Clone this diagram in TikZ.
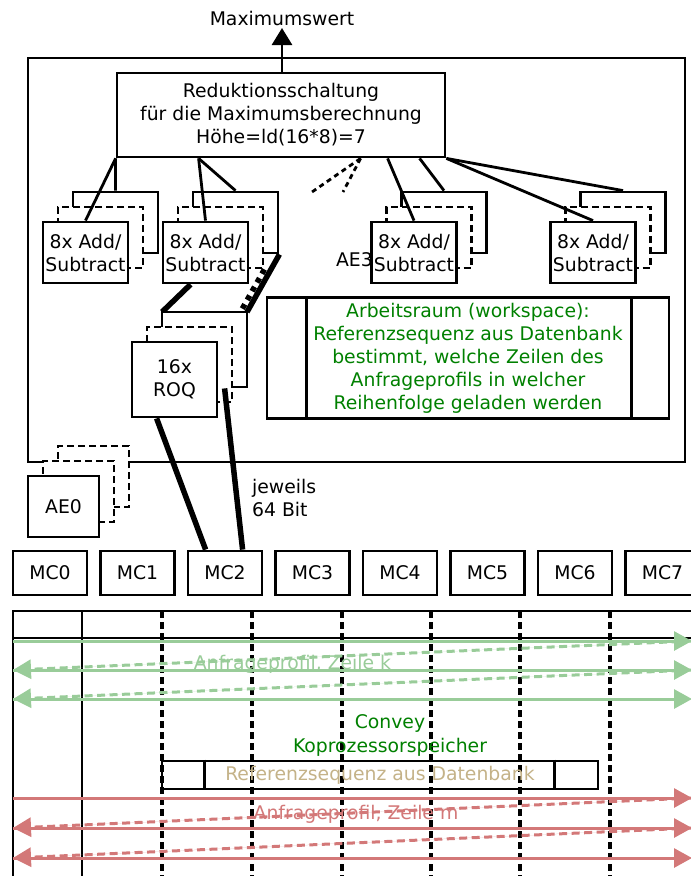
\documentclass[tikz,border=0pt]{standalone}
\usepackage{fontspec}
\setmainfont{DejaVu Sans}
\usetikzlibrary{arrows.meta,calc}

\definecolor{wsgreen}{RGB}{0,128,0}
\definecolor{rowgreen}{RGB}{153,204,153}
\definecolor{rowred}{RGB}{211,120,120}
\definecolor{reftan}{RGB}{196,178,136}

\tikzset{
  box/.style={draw, line width=2.8pt, fill=white, inner sep=0pt, align=center},
  ghostbox/.style={box, dash pattern=on 7pt off 4pt},
  conn/.style={line width=2.8pt},
  conndot/.style={line width=2.8pt, dash pattern=on 5pt off 4pt},
  bus/.style={line width=5.5pt},
  busdot/.style={line width=5.5pt, dash pattern=on 5pt off 5pt},
  lane/.style={line width=3.2pt, dash pattern=on 7pt off 4pt},
  rowtip/.style={-{Triangle[length=18pt,width=19pt]}},
  gsolid/.style={rowtip, line width=3pt, draw=rowgreen, fill=rowgreen},
  gdash/.style={gsolid, dash pattern=on 8pt off 4.5pt},
  rsolid/.style={rowtip, line width=3pt, draw=rowred, fill=rowred},
  rdash/.style={rsolid, dash pattern=on 8pt off 4.5pt},
}

% three stacked units: back, middle (dashed), front with label
\newcommand\unitstack[7]{%
  \node[#7, minimum width=#4, minimum height=#5] (#1back) at ({#2+30},{#3-30}) {};
  \node[ghostbox, minimum width=#4, minimum height=#5] (#1mid) at ({#2+15},{#3-15}) {};
  \node[box, minimum width=#4, minimum height=#5] (#1) at (#2,#3) {#6};
}

\begin{document}
\begin{tikzpicture}[x=1pt,y=-1pt,font=\fontsize{18.8}{23}\selectfont]
\useasboundingbox (0,0) rectangle (691,876);
\clip (0,0) rectangle (691,876);

% FPGA region
\node[draw, line width=2.8pt, minimum width=657pt, minimum height=404pt, inner sep=0pt] (main) at (356.5,260) {};

% reduction tree and result
\node[box, minimum width=328pt, minimum height=84pt] (red) at (281,115)
  {Reduktionsschaltung\\für die Maximumsberechnung\\Höhe=ld(16*8)=7};
\node[inner sep=0pt] (maxval) at (282,18) {Maximumswert};
\coordinate (maxtop) at (282,73);
\coordinate (maxtip) at (282,28);
\draw[conn, -{Triangle[length=17pt,width=20pt]}] (maxtop) -- (maxtip);

% processing elements
\node[anchor=east, inner sep=0pt] (ae3label) at (373,260) {AE3};
\unitstack{ae1}{85.5}{252.5}{85pt}{61pt}{8x Add/\\Subtract}{box}
\unitstack{ae2}{205.5}{252.5}{85pt}{61pt}{8x Add/\\Subtract}{box}
\unitstack{ae3}{414}{252.5}{85pt}{61pt}{8x Add/\\Subtract}{box}
\unitstack{ae4}{593}{252.5}{85pt}{61pt}{8x Add/\\Subtract}{box}

% links into the reduction tree
\draw[conn] (red.south west) -- (ae1.north);
\draw[conn] (red.south west) -- (ae1back.north);
\draw[conn] ($(red.south west)+(83,0)$) -- (ae2.north);
\draw[conn] ($(red.south west)+(83,0)$) -- (ae2back.north);
\coordinate (gapA) at (312,192);
\coordinate (gapB) at (343,192);
\draw[conndot] ($(red.south west)+(245,0)$) -- (gapA);
\draw[conndot] ($(red.south west)+(245,0)$) -- (gapB);
\draw[conn] ($(red.south west)+(272,0)$) -- (ae3.north);
\draw[conn] ($(red.south west)+(304,0)$) -- (ae3back.north);
\draw[conn] (red.south east) -- (ae4.north);
\draw[conn] (red.south east) -- (ae4back.north);

% workspace
\node[draw, line width=2.8pt, minimum width=402pt, minimum height=121pt, inner sep=0pt,
      align=center, text=wsgreen] (ws) at (468,358)
  {Arbeitsraum (workspace):\\Referenzsequenz aus Datenbank\\bestimmt, welche Zeilen des\\Anfrageprofils in welcher\\Reihenfolge geladen werden};
\draw[conn] ($(ws.north west)+(41,0)$) -- ($(ws.south west)+(41,0)$);
\draw[conn] ($(ws.north east)+(-39,0)$) -- ($(ws.south east)+(-39,0)$);

% query units
\draw[bus] ($(ae2.south west)+(29,0)$) -- (162,312) coordinate (roqtl);
\draw[bus] (ae2back.south east) -- (247,312) coordinate (roqtr);
\draw[busdot] (ae2mid.south east) -- (232,327);
\unitstack{roq}{174.5}{379.5}{85pt}{75pt}{16x\\ROQ}{box}

% AE0 stack outside the region
\unitstack{ae0}{63.5}{506.5}{71pt}{61pt}{AE0}{ghostbox}

% memory controllers
\foreach \i in {0,...,7}
  \node[box, minimum width=74pt, minimum height=44pt] (mc\i) at ({50+87.5*\i},573) {MC\i};

\draw[bus] ($(roq.south west)+(26,0)$) -- ($(mc2.north west)+(19,0)$);
\draw[bus] ($(roqback.south west)+(64,0)$) -- ($(mc2.north west)+(56,0)$);
\node[anchor=west, align=left, inner sep=0pt] (width) at (252,497.5) {jeweils\\64 Bit};

% coprocessor memory
\draw[conn] (13,880) -- (13,611) -- (700,611);
\draw[conn] (13,638) -- (700,638);
\draw[conn] (82,611) -- (82,880);
\foreach \x in {162,252,342,431,520,610}
  \draw[lane] (\x,611) -- (\x,880);

\node[text=wsgreen, align=center, inner sep=0pt, font=\fontsize{18.8}{24}\selectfont] (conv) at (390,735)
  {Convey\\Koprozessorspeicher};
\node[draw, line width=2.8pt, minimum width=436pt, minimum height=28pt, inner sep=0pt,
      text=reftan] (ref) at (380,775) {Referenzsequenz aus Datenbank};
\draw[conn] ($(ref.north west)+(44,0)$) -- ($(ref.south west)+(44,0)$);
\draw[conn] ($(ref.north east)+(-45,0)$) -- ($(ref.south east)+(-45,0)$);

% query profile row k
\coordinate (gL1) at (13,641); \coordinate (gR1) at (692,641);
\coordinate (gL2) at (13,670); \coordinate (gR2) at (692,670);
\coordinate (gL3) at (13,699); \coordinate (gR3) at (692,699);
\draw[gsolid] (gL1) -- (gR1);
\draw[gdash] (gR1) -- (gL2);
\draw[gsolid] (gL2) -- (gR2);
\draw[gdash] (gR2) -- (gL3);
\draw[gsolid] (gL3) -- (gR3);
\node[text=rowgreen, inner sep=0pt] (rowk) at (292.5,664) {Anfrageprofil, Zeile k};

% query profile row m
\coordinate (rL1) at (13,798); \coordinate (rR1) at (692,798);
\coordinate (rL2) at (13,828); \coordinate (rR2) at (692,828);
\coordinate (rL3) at (13,858); \coordinate (rR3) at (692,858);
\draw[rsolid] (rL1) -- (rR1);
\draw[rdash] (rR1) -- (rL2);
\draw[rsolid] (rL2) -- (rR2);
\draw[rdash] (rR2) -- (rL3);
\draw[rsolid] (rL3) -- (rR3);
\node[text=rowred, inner sep=0pt] (rowm) at (356,814) {Anfrageprofil, Zeile m};
\end{tikzpicture}
\end{document}
